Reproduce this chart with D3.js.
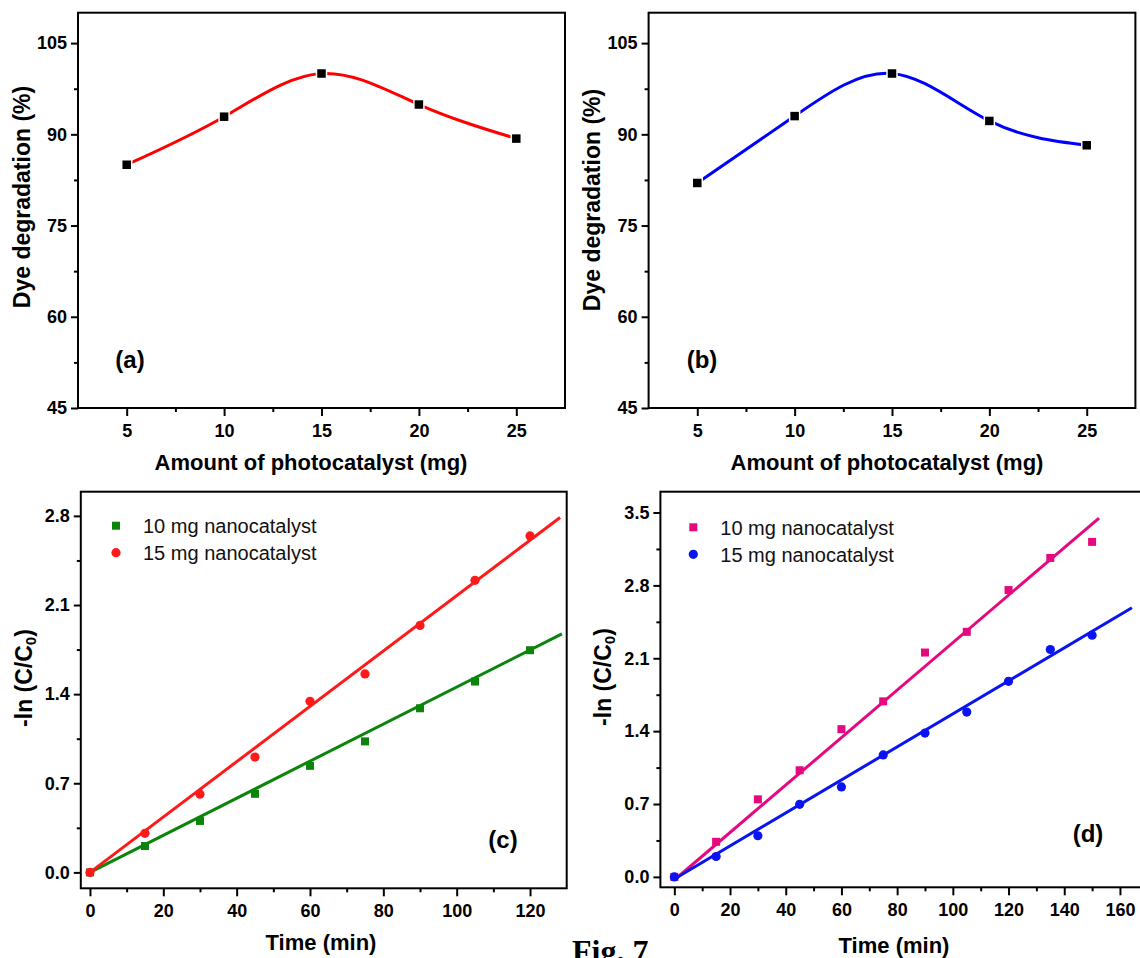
<!DOCTYPE html>
<html lang="en">
<head>
<meta charset="UTF-8">
<title>Fig. 7</title>
<script src="https://d3js.org/d3.v7.min.js"></script>
<style>
  body { margin: 0; background: white; }
  svg { display: block; font-family: "Liberation Sans", Arial, sans-serif; }
  .tick text { font-size: 18px; font-weight: bold; fill: #000; }
  .tick line { stroke: #000; stroke-width: 2px; }
  .title { font-size: 22px; font-weight: bold; fill: #000; }
  .ytitle { font-size: 23px; font-weight: bold; fill: #000; }
  .legend { font-size: 20px; fill: #111; }
  .tag { font-size: 24px; font-weight: bold; fill: #000; }
  .fig { font-family: "Liberation Serif", "Times New Roman", serif; font-size: 32px; font-weight: bold; }
</style>
</head>
<body>
<svg id="fig" width="1140" height="958"></svg>
<script>
// (a), (b): dye degradation vs amount of photocatalyst
var amounts = [5, 10, 15, 20, 25];
var degradA = [85.0, 92.9, 100.0, 94.9, 89.3];
var degradB = [82.0, 93.0, 100.0, 92.2, 88.2];
var amountTicks = [5, 10, 15, 20, 25];
var degradTicks = [45, 60, 75, 90, 105];

// (c), (d): -ln(C/C0) vs time
var timesC = [0, 15, 30, 45, 60, 75, 90, 105, 120];
var lnC10 = [0, 0.207, 0.404, 0.617, 0.837, 1.029, 1.289, 1.499, 1.745];
var lnC15 = [0, 0.307, 0.614, 0.906, 1.344, 1.559, 1.940, 2.294, 2.643];
var timesD = [0, 15, 30, 45, 60, 75, 90, 105, 120, 135, 150];
var lnD10 = [0, 0.337, 0.745, 1.024, 1.419, 1.686, 2.155, 2.354, 2.755, 3.064, 3.218];
var lnD15 = [0, 0.196, 0.395, 0.697, 0.864, 1.172, 1.381, 1.583, 1.879, 2.184, 2.322];

// linear fits as drawn: [slope, intercept, last time]
var fitC10 = [0.01456, 0, 128.7];
var fitC15 = [0.02174, 0, 128.2];
var fitD10 = [0.0228, -0.03, 152.5];
var fitD15 = [0.01586, -0.02, 164.3];

var timeTicksC = [0, 20, 40, 60, 80, 100, 120];
var timeTicksD = [0, 20, 40, 60, 80, 100, 120, 140, 160];
var lnTicksC = [0, 0.7, 1.4, 2.1, 2.8];
var lnTicksD = [0, 0.7, 1.4, 2.1, 2.8, 3.5];

var legendLabels = ["10 mg nanocatalyst", "15 mg nanocatalyst"];

var svg = d3.select("#fig");

function minors(t) {
  return t.slice(1).map((v, i) => (v + t[i]) / 2);
}

function drawAxes(g, x, y, xt, yt, yfmt) {
  var h = y.range()[0];
  var l = x.range()[0];
  g.append("g").attr("transform", "translate(0," + h + ")")
    .call(d3.axisBottom(x).tickValues(minors(xt)).tickSize(4).tickFormat(""))
    .call(s => s.select(".domain").remove());
  g.append("g").attr("transform", "translate(0," + h + ")")
    .call(d3.axisBottom(x).tickValues(xt).tickSize(8).tickPadding(8).tickFormat(d3.format("d")))
    .call(s => s.select(".domain").remove());
  g.append("g").attr("transform", "translate(" + l + ",0)")
    .call(d3.axisLeft(y).tickValues(minors(yt)).tickSize(4).tickFormat(""))
    .call(s => s.select(".domain").remove());
  g.append("g").attr("transform", "translate(" + l + ",0)")
    .call(d3.axisLeft(y).tickValues(yt).tickSize(7).tickPadding(4).tickFormat(yfmt))
    .call(s => s.select(".domain").remove());
  // box frame
  g.append("rect")
    .attr("x", x.range()[0]).attr("y", y.range()[1])
    .attr("width", x.range()[1] - x.range()[0])
    .attr("height", y.range()[0] - y.range()[1])
    .attr("fill", "none").attr("stroke", "#000").attr("stroke-width", 2);
}

function yTitle(g, cx, cy, sub) {
  var t = g.append("text").attr("class", "ytitle")
    .attr("text-anchor", "middle").attr("dominant-baseline", "central")
    .attr("transform", "translate(" + cx + "," + cy + ") rotate(-90)");
  if (sub) {
    t.append("tspan").text("-ln (C/C");
    t.append("tspan").attr("font-size", "15px").attr("dy", 6).text("0");
    t.append("tspan").attr("dy", -6).text(")");
  } else {
    t.text("Dye degradation (%)");
  }
}

function label(g, cls, cx, cy, txt) {
  g.append("text").attr("class", cls)
    .attr("x", cx).attr("y", cy)
    .attr("text-anchor", "middle").attr("dominant-baseline", "central")
    .text(txt);
}

function squares(g, x, y, xs, ys, color, size, halo) {
  g.selectAll(null).data(xs).enter().append("rect")
    .attr("x", (d, i) => x(d) - size / 2)
    .attr("y", (d, i) => y(ys[i]) - size / 2)
    .attr("width", size).attr("height", size)
    .attr("fill", color)
    .attr("stroke", halo ? "#fff" : "none").attr("stroke-width", halo ? 1.5 : 0);
}

function circles(g, x, y, xs, ys, color) {
  g.selectAll(null).data(xs).enter().append("circle")
    .attr("cx", d => x(d)).attr("cy", (d, i) => y(ys[i]))
    .attr("r", 4.6).attr("fill", color);
}

function fitLine(g, x, y, fit, color) {
  var pts = [0, fit[2]].map(t => [t, fit[0] * t + fit[1]]);
  g.append("path").datum(pts)
    .attr("d", d3.line().x(d => x(d[0])).y(d => y(d[1])))
    .attr("fill", "none").attr("stroke", color).attr("stroke-width", 3);
}

function legend(g, lx, ly, colors) {
  g.append("rect").attr("x", lx - 4).attr("y", ly - 4).attr("width", 8).attr("height", 8).attr("fill", colors[0]);
  g.append("circle").attr("cx", lx).attr("cy", ly + 27).attr("r", 4.6).attr("fill", colors[1]);
  legendLabels.forEach((s, i) => {
    g.append("text").attr("class", "legend")
      .attr("x", lx + 27).attr("y", ly + 7.5 + i * 27).text(s);
  });
}

// ---- (a) and (b)
function degradPanel(x0, x1, vals, color, tag, tagX, titleX, yTitleX, yTitleY) {
  var g = svg.append("g");
  var x = d3.scaleLinear().domain([2.5, 27.5]).range([x0, x1]);
  var y = d3.scaleLinear().domain([45, 110]).range([408, 12.7]);
  var pts = amounts.map((a, i) => [a, vals[i]]);
  g.append("path").datum(pts)
    .attr("d", d3.line().curve(d3.curveNatural).x(d => x(d[0])).y(d => y(d[1])))
    .attr("fill", "none").attr("stroke", color).attr("stroke-width", 3);
  squares(g, x, y, amounts, vals, "#000", 10, true);
  drawAxes(g, x, y, amountTicks, degradTicks, d3.format("d"));
  yTitle(g, yTitleX, yTitleY, false);
  label(g, "title", titleX, 462, "Amount of photocatalyst (mg)");
  label(g, "tag", tagX, 359, tag);
}

degradPanel(78, 565, degradA, "#ff0000", "(a)", 130, 311, 22, 197);
degradPanel(648.6, 1135.4, degradB, "#0000ff", "(b)", 702, 887, 592, 200);

// ---- (c)
(function () {
  var g = svg.append("g");
  var x = d3.scaleLinear().domain([-2.5, 130]).range([80.8, 566.7]);
  var y = d3.scaleLinear().domain([-0.125, 2.99]).range([888.3, 491.7]);
  fitLine(g, x, y, fitC10, "#0a850a");
  fitLine(g, x, y, fitC15, "#ff1a1a");
  squares(g, x, y, timesC, lnC10, "#0a850a", 8, false);
  circles(g, x, y, timesC, lnC15, "#ff1a1a");
  drawAxes(g, x, y, timeTicksC, lnTicksC, d3.format(".1f"));
  legend(g, 116, 525.7, ["#0a850a", "#ff1a1a"]);
  yTitle(g, 24, 678, true);
  label(g, "title", 321, 942, "Time (min)");
  label(g, "tag", 503, 839, "(c)");
})();

// ---- (d)
(function () {
  var g = svg.append("g");
  var x = d3.scaleLinear().domain([-5, 170]).range([660.4, 1147.8]);
  var y = d3.scaleLinear().domain([-0.1, 3.7]).range([887.3, 491.7]);
  fitLine(g, x, y, fitD10, "#e5097f");
  fitLine(g, x, y, fitD15, "#0a14f0");
  squares(g, x, y, timesD, lnD10, "#e5097f", 8, false);
  circles(g, x, y, timesD, lnD15, "#0a14f0");
  drawAxes(g, x, y, timeTicksD, lnTicksD, d3.format(".1f"));
  legend(g, 693.3, 527.3, ["#e5097f", "#0a14f0"]);
  yTitle(g, 603, 677, true);
  label(g, "title", 894, 945, "Time (min)");
  label(g, "tag", 1088, 833, "(d)");
})();

svg.append("text").attr("class", "fig").attr("x", 572).attr("y", 962).text("Fig. 7");
</script>
</body>
</html>
